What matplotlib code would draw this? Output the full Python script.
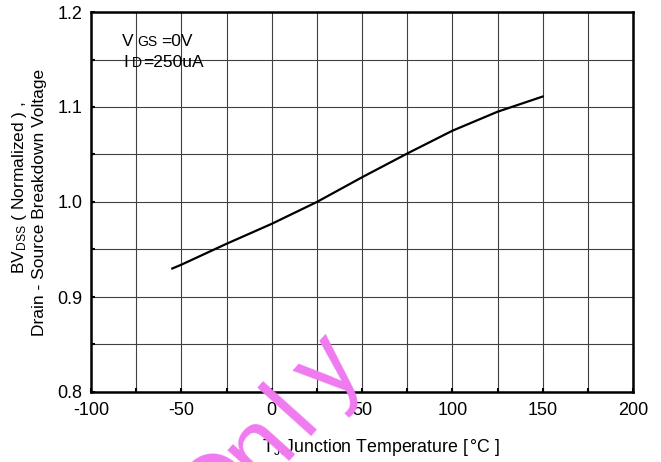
import numpy as np
import matplotlib
matplotlib.use('Agg')
import matplotlib.pyplot as plt
from matplotlib.ticker import MultipleLocator


plt.rcParams['font.family'] = ['Liberation Sans', 'DejaVu Sans']
plt.rcParams['mathtext.fontset'] = 'custom'
plt.rcParams['mathtext.rm'] = 'Liberation Sans'
plt.rcParams['mathtext.it'] = 'Liberation Sans'
plt.rcParams['mathtext.bf'] = 'Liberation Sans'

# data
temp = [-55, -50, -25, 0, 25, 50, 75, 100, 125, 150]
bv_norm = [0.930, 0.934, 0.956, 0.977, 1.000, 1.026, 1.051, 1.075, 1.095, 1.111]

x_ticks = [-100, -50, 0, 50, 100, 150, 200]
y_ticks = [0.8, 0.9, 1.0, 1.1, 1.2]

W, H = 661, 462
fig = plt.figure(figsize=(W / 100, H / 100), dpi=100)
ax = fig.add_axes([91 / W, 1 - 392 / H, (633 - 91) / W, (392 - 12) / H])


def px(x, y):
    return x / W, 1 - y / H


ax.plot(temp, bv_norm, color='black', lw=1.6)

ax.set_xlim(-100, 200)
ax.set_ylim(0.8, 1.2)
ax.set_xticks(x_ticks)
ax.set_yticks(y_ticks)
ax.set_xticklabels([str(t) for t in x_ticks])
ax.set_yticklabels(['%.1f' % t for t in y_ticks])
ax.xaxis.set_minor_locator(MultipleLocator(25))
ax.yaxis.set_minor_locator(MultipleLocator(0.05))

ax.grid(True, which='both', color='#404040', lw=0.8)
ax.set_axisbelow(True)
ax.tick_params(which='both', direction='in', length=3, width=1.5, labelsize=13)
ax.tick_params(axis='x', pad=7)
ax.tick_params(axis='y', pad=6)
for s in ax.spines.values():
    s.set_linewidth(1.8)
    s.set_color('black')

# condition annotation
fig.text(*px(122, 46), 'V', fontsize=12.5, va='baseline', ha='left')
fig.text(*px(137, 46), 'GS', fontsize=10, va='baseline', ha='left')
fig.text(*px(161, 46), '=0V', fontsize=12.5, va='baseline', ha='left')
fig.text(*px(123, 67), 'I', fontsize=12.5, va='baseline', ha='left')
fig.text(*px(132, 67), 'D', fontsize=10, va='baseline', ha='left')
fig.text(*px(143, 67), '=250uA', fontsize=12.5, va='baseline', ha='left')

# axis labels
fig.text(*px(20, 188), r'BV$_{\mathrm{DSS}}$ ( Normalized ) ,', rotation=90,
         fontsize=12.5, ha='center', va='center')
fig.text(*px(40, 202), 'Drain - Source Breakdown Voltage', rotation=90,
         fontsize=12.5, ha='center', va='center')
fig.text(*px(381, 447), r'T$_{\mathrm{J}}$,Junction Temperature [$\,$°C ]',
         fontsize=12.8, ha='center', va='center')

# watermark, letters spread along a slanted baseline
wm_letters = ['O', 'n', 'l', 'y']
wm_offsets = [-110, -50, 0, 55]
ang = 48
ux, uy = np.cos(np.radians(ang)), -np.sin(np.radians(ang))
for ch, d in zip(wm_letters, wm_offsets):
    fig.text(*px(312 + d * ux, 428 + d * uy), ch, fontsize=72, color='#f07af0',
             rotation=ang, ha='center', va='baseline', rotation_mode='anchor',
             zorder=10)

fig.savefig('out.png', dpi=100)
